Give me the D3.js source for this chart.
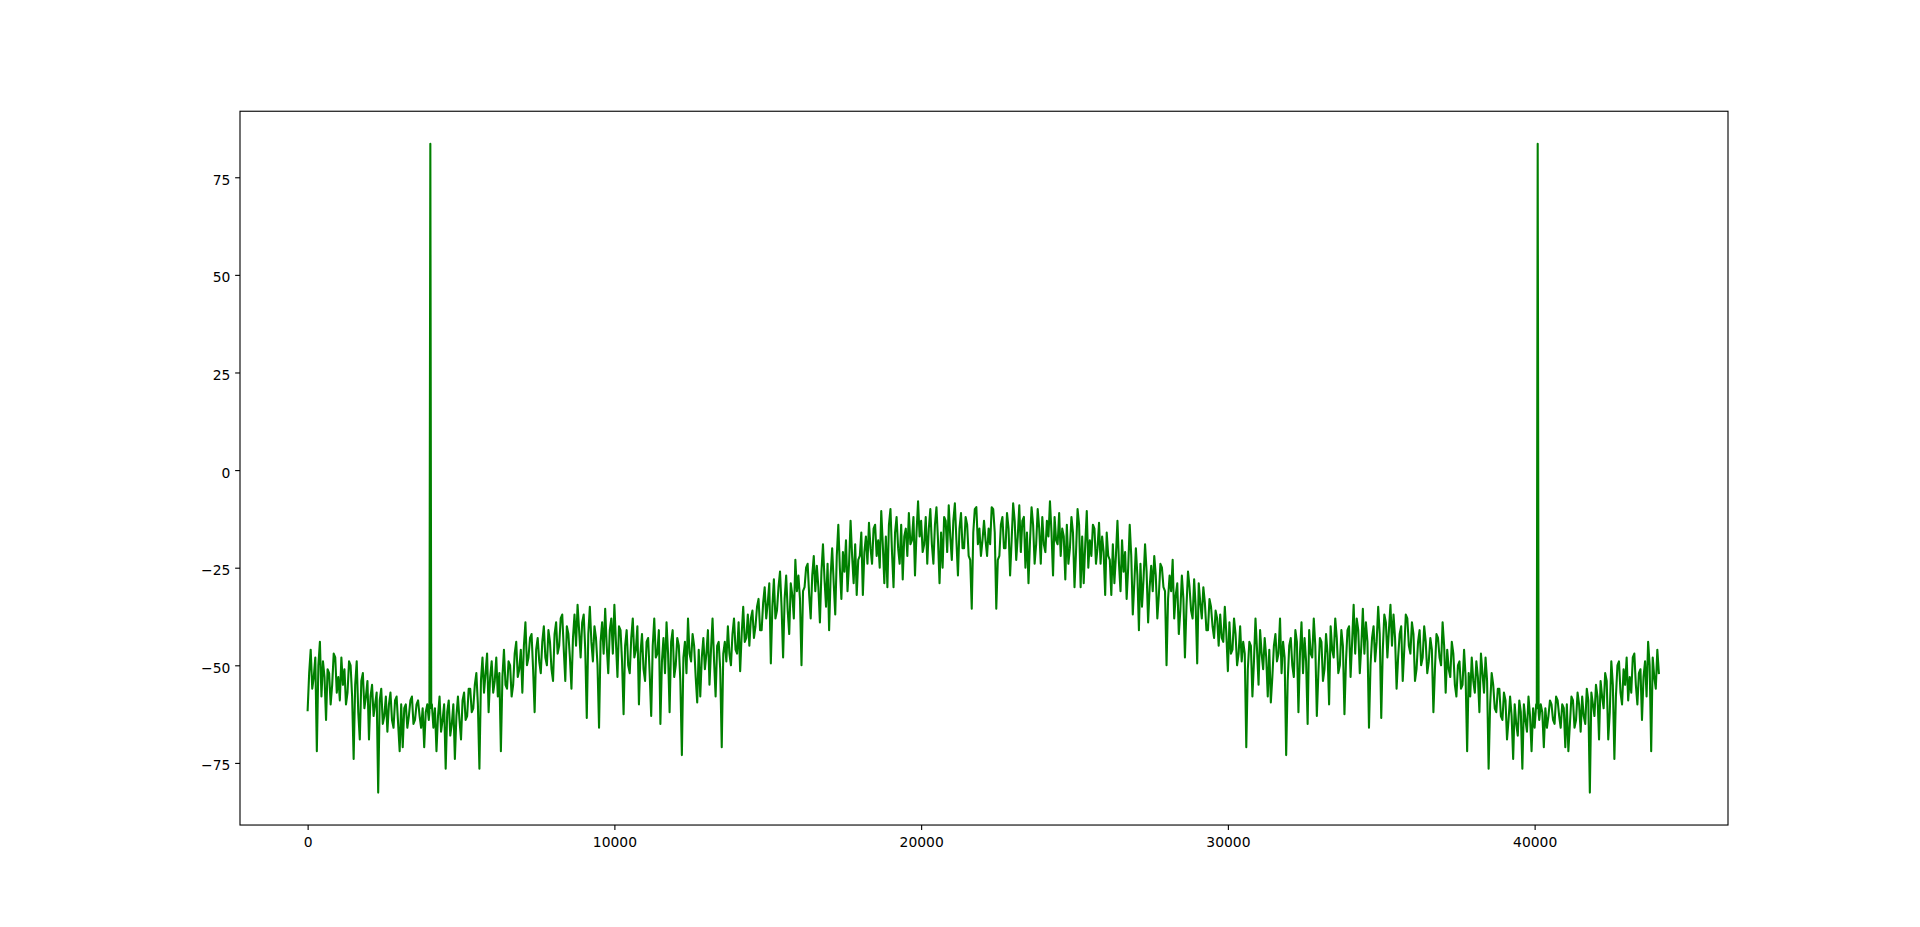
<!DOCTYPE html>
<html>
<head>
<meta charset="utf-8">
<script src="https://cdn.jsdelivr.net/npm/d3@7"></script>
<style>
  html, body { margin: 0; padding: 0; background: #fff; }
  svg { display: block; }
  text { font-family: "DejaVu Sans", sans-serif; font-size: 13.89px; fill: #000; }
</style>
</head>
<body>
<svg id="svg" width="1920" height="927"></svg>
<script>
// FFT magnitude (dB), one sample every BIN_STEP bins
const BIN_COUNT = 44100;
const BIN_STEP = 50;

const magnitudeDb = [
  // 0 .. 22050
  -61.5, -52, -46, -56, -53, -48, -72, -50, -44, -58, -49, -53, -64, -51, -52, -60, -55, -47, -48, -57,
  -53, -59, -48, -55, -51, -60, -57, -49, -50, -58, -74, -55, -49, -62, -69, -54, -52, -61, -58, -54,
  -69, -58, -55, -63, -60, -57, -82.6, -59, -56, -65, -63, -58, -67, -60, -57, -64, -66, -59, -58, -65,
  -72, -60, -71, -61, -60, -66, -63, -59, -58, -65, -64, -60, -59, -63, -66, -61, -71, -62, -60, -64,
  83.6, -60, -66, -61, -72, -63, -58, -67, -64, -60, -76.5, -62, -59, -68, -65, -60, -74, -63, -58, -64,
  -69, -59, -57, -64, -63, -56, -56, -62, -61, -55, -52, -60, -76.5, -54, -48, -57, -52, -47, -62, -53,
  -49, -57, -54, -48, -58, -52, -72, -53, -46, -55, -56, -49, -50, -58, -55, -47, -44, -53, -51, -46,
  -57, -45, -39, -50, -48, -43, -42, -51, -62, -46, -43, -49, -52, -44, -40, -48, -50, -41, -44, -51,
  -54, -42, -39, -47, -45, -38, -37, -46, -54, -40, -42, -48, -56, -43, -37, -45, -34.5, -41, -48, -39,
  -37, -46, -63.5, -42, -35, -44, -49, -40, -43, -50, -66, -44, -39, -47, -35.5, -45, -52, -41, -38, -47,
  -34.5, -44, -53, -40, -41, -49, -62.5, -45, -41, -50, -52, -43, -38, -48, -46, -40, -60, -47, -42, -51,
  -54, -44, -43, -52, -63, -45, -38, -48, -47, -41, -65, -49, -43, -52, -39, -47, -62, -44, -41, -53,
  -50, -43, -45, -54, -73, -48, -44, -52, -38, -47, -49, -42, -45, -53, -59.5, -46, -58, -48, -43, -51,
  -47, -41, -55, -46, -38, -49, -58, -45, -44, -51, -71, -47, -44, -49, -40, -47, -50, -42, -38, -46,
  -47, -39, -51.5, -42, -35, -44, -43, -37, -45, -38, -36, -43, -40, -35, -33, -41, -41, -34, -30, -38,
  -34, -29, -49.5, -35, -28, -38, -36, -30, -26, -35, -48, -33, -27, -36, -42, -29, -32, -38, -23, -31,
  -27, -33, -50, -31, -30, -25, -24, -32, -38, -27, -22, -31, -24.5, -30, -39, -26, -19, -28, -35, -24,
  -41, -27, -20, -29, -37, -22, -14, -25, -33, -21, -26, -18, -31, -24, -13, -22, -29, -19, -32, -23,
  -22, -16, -32, -21, -17, -24, -13.5, -20, -24, -15, -14, -22, -18, -25, -10.5, -19, -29, -17, -30, -14,
  -10, -21, -30, -16, -12, -20, -24, -14, -28, -17, -15, -22, -11, -19, -18, -12, -27, -16, -8, -17,
  -13, -21, -19, -12, -24, -15, -10, -19, -24, -14, -9.5, -18, -29, -16, -25, -12, -13, -21, -9, -17,
  -23, -13, -8.5, -18, -27, -15, -11, -20, -20, -12, -14, -22, -23, -35.5, -16, -10, -9.5, -19, -15, -22,
  -18, -13,
  // 22100 .. 44050
  -18,
  -22, -15, -19, -9.5, -10, -16, -35.5, -23, -22, -14, -12, -20, -20, -11, -15, -27, -18, -8.5, -13, -23,
  -17, -9, -21, -13, -12, -25, -16, -29, -18, -9.5, -14, -24, -19, -10, -15, -24, -12, -19, -21, -13,
  -17, -8, -16, -27, -12, -18, -19, -11, -22, -15, -17, -28, -14, -24, -20, -12, -16, -30, -21, -10,
  -14, -30, -17, -29, -19, -10.5, -25, -18, -22, -14, -15, -24, -20, -13.5, -24, -17, -21, -32, -16, -22,
  -23, -32, -19, -29, -22, -13, -24, -31, -18, -26, -21, -33, -25, -14, -22, -37, -29, -20, -27, -41,
  -24, -35, -28, -19, -26, -39, -30, -24.5, -31, -22, -27, -38, -32, -24, -25, -30, -31, -50, -33, -27,
  -31, -23, -38, -32, -29, -42, -36, -27, -33, -48, -35, -26, -30, -36, -38, -28, -35, -49.5, -29, -34,
  -38, -30, -34, -41, -41, -33, -35, -40, -43, -36, -38, -45, -37, -43, -44, -35, -42, -51.5, -39, -47,
  -46, -38, -42, -50, -47, -40, -49, -44, -47, -71, -51, -44, -45, -58, -49, -38, -46, -55, -41, -47,
  -51, -43, -48, -58, -46, -59.5, -53, -45, -42, -49, -47, -38, -52, -44, -48, -73, -54, -45, -43, -50,
  -53, -41, -44, -62, -47, -39, -52, -43, -49, -65, -41, -47, -48, -38, -45, -63, -52, -43, -44, -54,
  -51, -42, -47, -60, -40, -46, -48, -38, -43, -52, -50, -41, -45, -62.5, -49, -41, -40, -53, -44, -34.5,
  -47, -38, -41, -52, -45, -35.5, -47, -39, -44, -66, -50, -43, -40, -49, -44, -35, -42, -63.5, -46, -37,
  -39, -48, -41, -34.5, -45, -37, -43, -56, -48, -42, -40, -54, -46, -37, -38, -45, -47, -39, -42, -54,
  -51, -44, -41, -50, -48, -40, -44, -52, -49, -43, -46, -62, -51, -42, -43, -48, -50, -39, -45, -57,
  -46, -51, -53, -44, -47, -55, -58, -50, -49, -56, -55, -46, -53, -72, -52, -58, -48, -54, -57, -49,
  -53, -62, -47, -52, -57, -48, -54, -76.5, -60, -52, -55, -61, -62, -56, -56, -63, -64, -57, -59, -69,
  -64, -58, -63, -74, -60, -65, -68, -59, -62, -76.5, -60, -64, -67, -58, -63, -72, -61, -66, -60, 83.6,
  -64, -60, -62, -71, -61, -66, -63, -59, -60, -64, -65, -58, -59, -63, -66, -60, -61, -71, -60, -72,
  -65, -58, -59, -66, -64, -57, -60, -67, -58, -63, -65, -56, -59, -82.6, -57, -60, -63, -55, -58, -69,
  -54, -58, -61, -52, -54, -69, -62, -49, -55, -74, -58, -50, -49, -57, -60, -51, -55, -48, -59, -53,
  -57, -48, -47, -55, -60, -52, -51, -64, -53, -49, -58, -44, -50, -72, -48, -53, -56, -46, -52
];

// the foot of each tone spike (about a pixel each side)
const spikeShoulders = [[3970, -62], [4030, -61], [40070, -61], [40130, -62]];

const xTickValues = [0, 10000, 20000, 30000, 40000];
const yTickValues = [-75, -50, -25, 0, 25, 50, 75];

const PT = 100 / 72;   // figure is 100 dpi
const plot = { left: 240, right: 1728, top: 111.24, bottom: 825.03 };
const TICK = 3.5 * PT;
const PAD = 3.5 * PT;

// pad an extent by 5% each side, like matplotlib's autoscale
const padded = ([lo, hi]) => {
  const m = (hi - lo) * 0.05;
  return [lo - m, hi + m];
};

const points = magnitudeDb
  .map((db, i) => [i * BIN_STEP, db])
  .concat(spikeShoulders)
  .sort((a, b) => a[0] - b[0]);

const x = d3.scaleLinear()
  .domain(padded([0, BIN_COUNT - 1]))
  .range([plot.left, plot.right]);

const y = d3.scaleLinear()
  .domain(padded(d3.extent(points, d => d[1])))
  .range([plot.bottom, plot.top]);

const svg = d3.select("#svg");

svg.append("path")
  .datum(points)
  .attr("fill", "none")
  .attr("stroke", "#008000")
  .attr("stroke-width", 1.5 * PT)
  .attr("stroke-linejoin", "round")
  .attr("stroke-linecap", "square")
  .attr("d", d3.line().x(d => x(d[0])).y(d => y(d[1])));

// spines
svg.append("rect")
  .attr("x", plot.left)
  .attr("y", plot.top)
  .attr("width", plot.right - plot.left)
  .attr("height", plot.bottom - plot.top)
  .attr("fill", "none")
  .attr("stroke", "#000")
  .attr("stroke-width", 0.8 * PT);

const xAxis = svg.append("g")
  .attr("transform", `translate(0,${plot.bottom})`)
  .call(d3.axisBottom(x).tickValues(xTickValues).tickFormat(d3.format("d"))
    .tickSize(TICK).tickSizeOuter(0).tickPadding(PAD));
xAxis.select(".domain").remove();
xAxis.selectAll(".tick line").attr("stroke-width", 0.8 * PT);
xAxis.selectAll(".tick text")
  .attr("y", 22.3)
  .attr("dy", null);

const yAxis = svg.append("g")
  .attr("transform", `translate(${plot.left},0)`)
  .call(d3.axisLeft(y).tickValues(yTickValues).tickFormat(d3.format("d"))
    .tickSize(TICK).tickSizeOuter(0).tickPadding(PAD));
yAxis.select(".domain").remove();
yAxis.selectAll(".tick line").attr("stroke-width", 0.8 * PT);
yAxis.selectAll(".tick text").attr("dy", "0.5em");

// let the stylesheet font win over the axis defaults
svg.selectAll("g").attr("font-family", null).attr("font-size", null).attr("fill", null);
</script>
</body>
</html>
